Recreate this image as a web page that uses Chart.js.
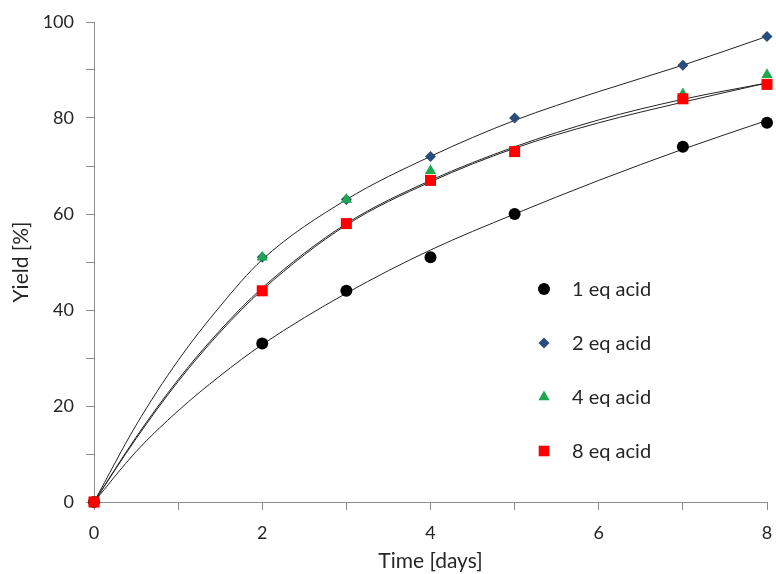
<!DOCTYPE html>
<html>
<head>
<meta charset="utf-8">
<script src="https://cdn.jsdelivr.net/npm/chart.js@4/dist/chart.umd.min.js"></script>
<style>
html,body{margin:0;padding:0;background:#fff;}
#wrap{width:776px;height:574px;position:relative;}
</style>
</head>
<body>
<div id="wrap"><canvas id="c" width="776" height="574"></canvas></div>
<script>
// measured data (days, yield %)
const days = [0, 2, 3, 4, 5, 7, 8];
const eq1 = [0, 33, 44, 51, 60, 74, 79];
const eq2 = [0, 51, 63, 72, 80, 91, 97];
const eq4 = [0, 51, 63, 69, 73, 85, 89];
const eq8 = [0, 44, 58, 67, 73, 84, 87];
// trend curves
const trendDays = [0, 0.5, 1, 1.5, 2, 3, 4, 5, 6, 7, 8];
const trend1 = [0, 10.5, 19, 26.3, 32.8, 43.5, 52.5, 60, 67, 73.5, 79.5];
const trend2 = [0, 16, 29.5, 40.8, 50.5, 63, 72, 79.5, 85.5, 91, 97];
const trend4 = [0, 13.5, 25.5, 35.8, 44.6, 58, 67, 74, 79.6, 83.9, 87.3];
const trend8 = [0, 13.2, 25.1, 35.4, 44.2, 57.7, 66.7, 73.7, 79, 83.3, 87.3];
const seriesLabels = ['1 eq acid', '2 eq acid', '4 eq acid', '8 eq acid'];
const xTicks = [0, 2, 4, 6, 8];
const yTicks = [0, 20, 40, 60, 80, 100];

const FONT = 'Lato, "Open Sans", sans-serif';
const TEXT = '#262626';
const pts = (xs, ys) => xs.map((x, i) => ({x: x, y: ys[i]}));

const markerStyles = [
  {style: 'circle', color: '#000000', r: 6},
  {style: 'rectRot', color: '#2A4C7F', r: 5.5},
  {style: 'triangle', color: '#1DA84E', r: 6.5},
  {style: 'rect', color: '#FF0000', r: 7.8}
];
const seriesData = [eq1, eq2, eq4, eq8];
const trendData = [trend1, trend2, trend4, trend8];

const datasets = [];
trendData.forEach((t, i) => {
  datasets.push({
    label: 'trend ' + seriesLabels[i],
    data: pts(trendDays, t),
    showLine: true,
    borderColor: '#222',
    borderWidth: 1,
    pointRadius: 0,
    cubicInterpolationMode: 'monotone',
    order: 10 + i
  });
});
seriesData.forEach((d, i) => {
  const m = markerStyles[i];
  datasets.push({
    label: seriesLabels[i],
    data: pts(days, d),
    showLine: false,
    clip: false,
    pointStyle: m.style,
    pointRadius: m.r,
    pointBackgroundColor: m.color,
    pointBorderColor: m.color,
    pointBorderWidth: 0,
    order: 3 - i
  });
});

function drawMarker(ctx, style, color, r, x, y) {
  ctx.save();
  ctx.fillStyle = color;
  ctx.beginPath();
  if (style === 'circle') {
    ctx.arc(x, y, r, 0, Math.PI * 2);
  } else if (style === 'rectRot') {
    ctx.moveTo(x, y - r); ctx.lineTo(x + r, y); ctx.lineTo(x, y + r); ctx.lineTo(x - r, y); ctx.closePath();
  } else if (style === 'triangle') {
    ctx.moveTo(x, y - r); ctx.lineTo(x + r * 0.866, y + r * 0.5); ctx.lineTo(x - r * 0.866, y + r * 0.5); ctx.closePath();
  } else {
    const h = r * Math.SQRT1_2;
    ctx.rect(x - h, y - h, 2 * h, 2 * h);
  }
  ctx.fill();
  ctx.restore();
}

const legendPlugin = {
  id: 'insideLegend',
  afterDraw(chart) {
    const ctx = chart.ctx;
    const x0 = 544, y0 = 289, dy = 54;
    ctx.save();
    ctx.font = '20px ' + FONT;
    ctx.fillStyle = TEXT;
    ctx.textBaseline = 'middle';
    seriesLabels.forEach((lab, i) => {
      const m = markerStyles[i];
      drawMarker(ctx, m.style, m.color, m.style === 'rect' ? 7.5 : m.r, x0, y0 + i * dy);
      ctx.fillText(lab, 572, y0 + i * dy + 1);
    });
    ctx.restore();
  }
};

new Chart(document.getElementById('c'), {
  type: 'scatter',
  data: {datasets: datasets},
  plugins: [legendPlugin],
  options: {
    responsive: false,
    animation: false,
    layout: {padding: {top: 22, right: 9, left: 0, bottom: 0}, autoPadding: false},
    plugins: {legend: {display: false}, tooltip: {enabled: false}},
    scales: {
      x: {
        type: 'linear', min: 0, max: 8,
        afterFit(s) { s.height = 72; s.paddingLeft = 0; s.paddingRight = 0; },
        ticks: {
          stepSize: 1,
          font: {family: FONT, size: 18}, color: TEXT,
          padding: 12,
          maxRotation: 0,
          callback: v => xTicks.includes(v) ? String(v) : ''
        },
        grid: {display: true, drawOnChartArea: false, drawTicks: true, tickLength: 8, color: '#8c8c8c'},
        border: {color: '#8c8c8c', width: 1},
        title: {display: true, text: 'Time [days]', font: {family: FONT, size: 21}, color: TEXT, padding: {top: 0, bottom: 0}}
      },
      y: {
        type: 'linear', min: 0, max: 100,
        afterFit(s) { s.width = 94; s.paddingTop = 0; s.paddingBottom = 0; },
        ticks: {
          stepSize: 10,
          font: {family: FONT, size: 18}, color: TEXT,
          padding: 12,
          callback: v => yTicks.includes(v) ? String(v) : ''
        },
        grid: {display: true, drawOnChartArea: false, drawTicks: true, tickLength: 8, color: '#8c8c8c'},
        border: {color: '#8c8c8c', width: 1},
        title: {display: true, text: 'Yield [%]', font: {family: FONT, size: 21}, color: TEXT, padding: {top: 9, bottom: 0}}
      }
    }
  }
});
</script>
</body>
</html>
